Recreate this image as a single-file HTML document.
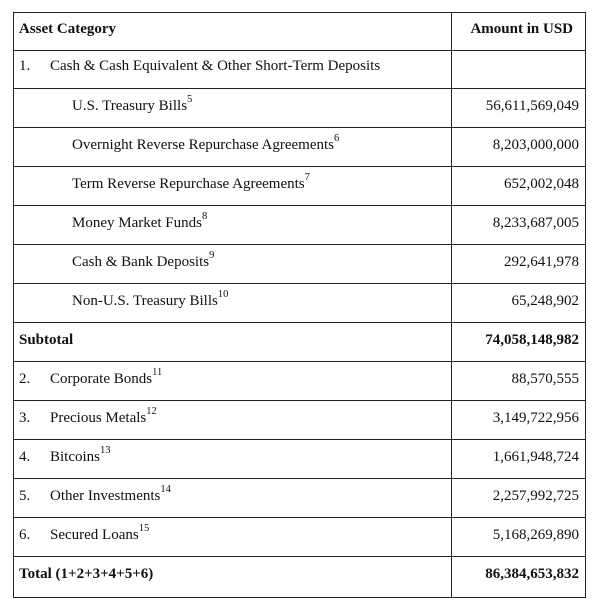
<!DOCTYPE html>
<html><head><style>
body{margin:0;background:#fff;width:600px;height:613px;position:relative;font-family:"Liberation Serif",serif;color:#111;font-size:15px;}
.box{position:absolute;left:13px;top:12px;width:571px;height:584px;border:1.6px solid #222;}
.h{position:absolute;left:0;width:571px;height:0;border-top:1.6px solid #222;}
.v{position:absolute;left:437px;top:0;height:584px;border-left:1.6px solid #222;}
.r{position:absolute;left:0;width:571px;height:39px;line-height:39px;white-space:nowrap;}
.l{position:absolute;left:5px;}
.n{position:absolute;right:6px;}
.i{left:58px;}
.k{position:absolute;left:36px;}
.b{font-weight:bold;}
sup{font-size:10.5px;vertical-align:8px;line-height:0;}
</style></head><body>
<div class="box">
<div class="v"></div>
<div class="h" style="top:37px"></div>
<div class="h" style="top:75px"></div>
<div class="h" style="top:114px"></div>
<div class="h" style="top:153px"></div>
<div class="h" style="top:192px"></div>
<div class="h" style="top:231px"></div>
<div class="h" style="top:270px"></div>
<div class="h" style="top:309px"></div>
<div class="h" style="top:348px"></div>
<div class="h" style="top:387px"></div>
<div class="h" style="top:426px"></div>
<div class="h" style="top:465px"></div>
<div class="h" style="top:504px"></div>
<div class="h" style="top:543px"></div>

<div class="r b" style="top:-3px"><span class="l">Asset Category</span><span class="n" style="right:12px">Amount in USD</span></div>
<div class="r" style="top:34px"><span class="l">1.</span><span class="k">Cash &amp; Cash Equivalent &amp; Other Short-Term Deposits</span></div>
<div class="r" style="top:74px"><span class="l i">U.S. Treasury Bills<sup>5</sup></span><span class="n">56,611,569,049</span></div>
<div class="r" style="top:113px"><span class="l i">Overnight Reverse Repurchase Agreements<sup>6</sup></span><span class="n">8,203,000,000</span></div>
<div class="r" style="top:152px"><span class="l i">Term Reverse Repurchase Agreements<sup>7</sup></span><span class="n">652,002,048</span></div>
<div class="r" style="top:191px"><span class="l i">Money Market Funds<sup>8</sup></span><span class="n">8,233,687,005</span></div>
<div class="r" style="top:230px"><span class="l i">Cash &amp; Bank Deposits<sup>9</sup></span><span class="n">292,641,978</span></div>
<div class="r" style="top:269px"><span class="l i">Non-U.S. Treasury Bills<sup>10</sup></span><span class="n">65,248,902</span></div>
<div class="r b" style="top:308px"><span class="l">Subtotal</span><span class="n">74,058,148,982</span></div>
<div class="r" style="top:347px"><span class="l">2.</span><span class="k">Corporate Bonds<sup>11</sup></span><span class="n">88,570,555</span></div>
<div class="r" style="top:386px"><span class="l">3.</span><span class="k">Precious Metals<sup>12</sup></span><span class="n">3,149,722,956</span></div>
<div class="r" style="top:425px"><span class="l">4.</span><span class="k">Bitcoins<sup>13</sup></span><span class="n">1,661,948,724</span></div>
<div class="r" style="top:464px"><span class="l">5.</span><span class="k">Other Investments<sup>14</sup></span><span class="n">2,257,992,725</span></div>
<div class="r" style="top:503px"><span class="l">6.</span><span class="k">Secured Loans<sup>15</sup></span><span class="n">5,168,269,890</span></div>
<div class="r b" style="top:542px"><span class="l">Total (1+2+3+4+5+6)</span><span class="n">86,384,653,832</span></div>
</div>
</body></html>
